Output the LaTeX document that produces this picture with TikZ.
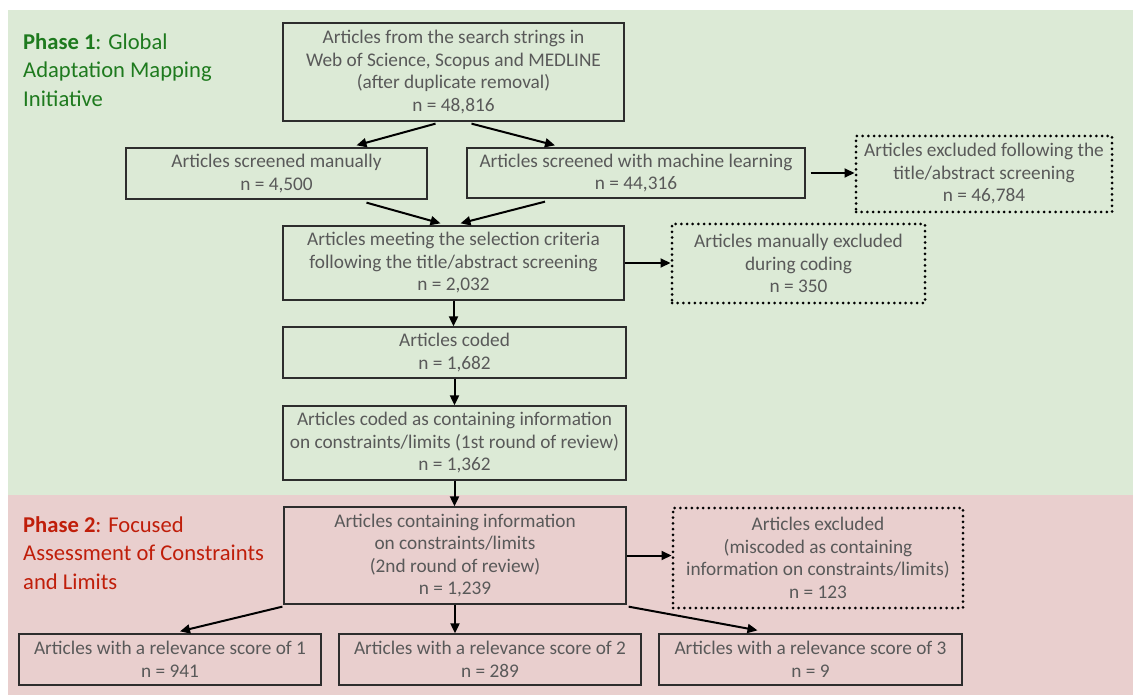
\documentclass[tikz,border=0pt]{standalone}
\usepackage{fontspec}
\setmainfont{Carlito}
\usetikzlibrary{arrows.meta,calc}
\definecolor{bggreen}{RGB}{220,234,214}
\definecolor{bgpink}{RGB}{233,207,206}
\definecolor{txtgrey}{RGB}{89,89,89}
\definecolor{boxline}{RGB}{45,45,45}
\definecolor{ttlgreen}{RGB}{30,122,30}
\definecolor{ttlred}{RGB}{192,30,10}
\begin{document}
\begin{tikzpicture}[x=1pt,y=-1pt,
  boxstyle/.style={draw=boxline,line width=1.3pt,align=center,text=txtgrey,
    font=\fontsize{19.3}{22.5}\selectfont,inner sep=0pt,anchor=center},
  dotbox/.style={boxstyle,draw=black,line width=3pt,line cap=round,dash pattern=on 0pt off 5.7pt},
  arr/.style={line width=2pt,-{Triangle[length=10pt,width=9pt]}},
  ttl/.style={anchor=north west,align=left,inner sep=0pt,font=\fontsize{22.6}{28.5}\selectfont}
]
\useasboundingbox (0,0) rectangle (1133,695);
\fill[white] (0,0) rectangle (1133,695);
\fill[bggreen] (8,10) rectangle (1133,495);
\fill[bgpink] (8,495) rectangle (1133,695);

\node[ttl,text=ttlgreen] (t1) at (23,33) {\textbf{Phase 1}: Global\\Adaptation Mapping\\Initiative};
\node[ttl,text=ttlred] (t2) at (23,516) {\textbf{Phase 2}: Focused\\Assessment of Constraints\\and Limits};

\node[boxstyle,minimum width=341pt,minimum height=98pt] (top) at (453.5,72)
  {Articles from the search strings in\\Web of Science, Scopus and MEDLINE\\(after duplicate removal)\\n = 48,816};
\node[boxstyle,minimum width=301pt,minimum height=51pt] (man) at (276.5,173.5)
  {Articles screened manually\\n = 4,500};
\node[boxstyle,minimum width=338pt,minimum height=50pt] (ml) at (636,173)
  {Articles screened with machine learning\\n = 44,316};
\node[dotbox,minimum width=256pt,minimum height=76pt] (ex1) at (984,174)
  {Articles excluded following the\\title/abstract screening\\n = 46,784};
\node[boxstyle,minimum width=341pt,minimum height=74pt] (crit) at (453.5,263)
  {Articles meeting the selection criteria\\following the title/abstract screening\\n = 2,032};
\node[dotbox,minimum width=253pt,minimum height=79pt] (ex2) at (798.5,263.5)
  {Articles manually excluded\\during coding\\n = 350};
\node[boxstyle,minimum width=343pt,minimum height=51pt] (cod) at (454.5,352.5)
  {Articles coded\\n = 1,682};
\node[boxstyle,minimum width=343pt,minimum height=74pt] (cod2) at (454.5,443)
  {Articles coded as containing information\\on constraints/limits (1st round of review)\\n = 1,362};
\node[boxstyle,minimum width=342pt,minimum height=97pt] (p2) at (455,555.5)
  {Articles containing information\\on constraints/limits\\(2nd round of review)\\n = 1,239};
\node[dotbox,minimum width=290pt,minimum height=100pt] (ex3) at (818,558)
  {Articles excluded\\(miscoded as containing\\information on constraints/limits)\\n = 123};
\node[boxstyle,minimum width=302pt,minimum height=51pt] (s1) at (170,659.5)
  {Articles with a relevance score of 1\\n = 941};
\node[boxstyle,minimum width=302pt,minimum height=51pt] (s2) at (490,659.5)
  {Articles with a relevance score of 2\\n = 289};
\node[boxstyle,minimum width=303pt,minimum height=51pt] (s3) at (810.5,659.5)
  {Articles with a relevance score of 3\\n = 9};

\draw[arr] ($(top.south)+(-18,2)$) -- ($(man.north)+(80,-2)$);
\draw[arr] ($(top.south)+(18,2)$) -- ($(ml.north)+(-81,-2)$);
\draw[arr] ($(man.south)+(90,3)$) -- ($(crit.north)+(-13,-2)$);
\draw[arr] ($(ml.south)+(-91,3)$) -- ($(crit.north)+(7,-2)$);
\draw[arr] ($(ml.east)+(5,0)$) -- (ml.east -| ex1.west);
\draw[arr] (crit.east) -- (crit.east -| ex2.west);
\draw[arr] (crit.south) -- (crit.south |- cod.north);
\draw[arr] (cod.south) -- (cod.south |- cod2.north);
\draw[arr] (cod2.south) -- (cod2.south |- p2.north);
\draw[arr] (p2.east) -- (p2.east -| ex3.west);
\draw[arr] ($(p2.south west)+(-1,2)$) -- ($(s1.north)+(10,-2)$);
\draw[arr] (p2.south) -- (p2.south |- s2.north);
\draw[arr] ($(p2.south east)+(2,2)$) -- ($(s3.north)+(-53,-3)$);
\end{tikzpicture}
\end{document}
